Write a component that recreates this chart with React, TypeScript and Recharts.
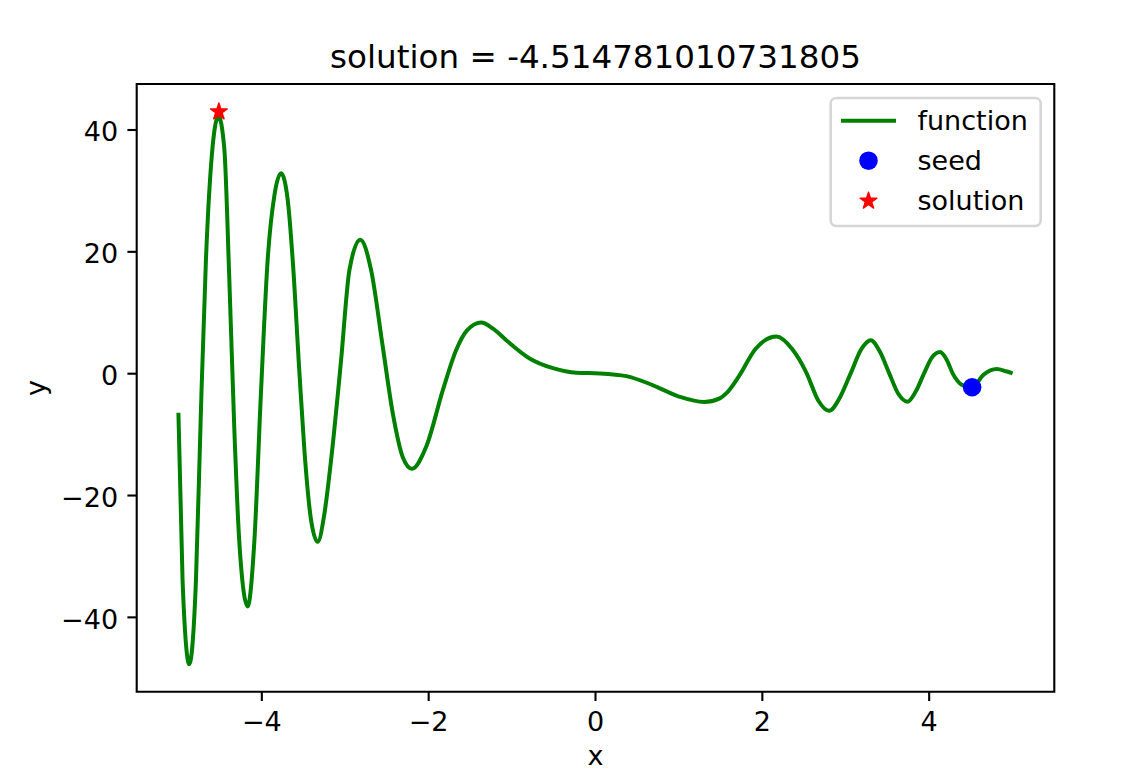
import React from 'react';
import { ComposedChart, Line, Scatter, XAxis, YAxis, ReferenceArea, Legend } from 'recharts';

// ---- data ----
const fnX = [
  -5.0, -4.95, -4.87, -4.79, -4.73, -4.67, -4.61, -4.52, -4.45, -4.39, -4.33, -4.27, -4.17,
  -4.09, -4.01, -3.93, -3.85, -3.77, -3.69, -3.63, -3.55, -3.49, -3.41, -3.33, -3.25, -3.17,
  -3.05, -2.95, -2.82, -2.69, -2.55, -2.43, -2.31, -2.2, -2.03, -1.83, -1.67, -1.54, -1.37,
  -1.22, -1.07, -0.79, -0.51, -0.23, 0.05, 0.37, 0.69, 1.01, 1.3, 1.49, 1.57, 1.72, 1.92, 2.17,
  2.36, 2.53, 2.67, 2.8, 2.93, 3.06, 3.19, 3.3, 3.41, 3.52, 3.63, 3.74, 3.84, 3.94, 4.03,
  4.13, 4.21, 4.28, 4.39, 4.515, 4.65, 4.81, 4.92, 5.0,
];
const fnY = [
  -6.4, -34, -47.7, -34, -6, 18.7, 34, 42.3, 37, 15.6, -9, -27.6, -38.2,
  -27.6, -3, 18.7, 29.2, 32.9, 28.6, 18.7, 0.3, -12.5, -24, -27.6, -23, -14.2,
  2.2, 17, 22, 17, 4.4, -6.5, -13.7, -15.6, -12, -2.7, 3.9, 7.1, 8.4,
  7.3, 5.5, 2.5, 0.9, 0.15, 0.05, -0.4, -1.9, -3.8, -4.65, -4.05, -3.2, -0.4, 4.1, 6.1,
  4.0, 0.1, -4.4, -6.1, -3.9, 0.1, 4.1, 5.5, 3.6, 0.1, -3.3, -4.6, -2.9, 0.1, 2.6,
  3.55, 2.3, 0.1, -1.8, -2.25, -0.2, 0.75, 0.4, 0.05,
];
const seedX = [4.5148];
const seedY = [-2.23];
const solutionX = [-4.514781010731805];
const solutionY = [43.0];

const xTicks = [-4, -2, 0, 2, 4];
const yTicks = [-40, -20, 0, 20, 40];
const xDomain: [number, number] = [-5.5, 5.5];
const yDomain: [number, number] = [-52.2, 47.55];

const titleText = 'solution = -4.514781010731805';
const xLabel = 'x';
const yLabel = 'y';
const legendLabels = ['function', 'seed', 'solution'];

// ---- tables built from the arrays ----
const fnData = fnX.map((x, i) => ({ x, y: fnY[i] }));
const seedData = seedX.map((x, i) => ({ x, y: seedY[i] }));
const solutionData = solutionX.map((x, i) => ({ x, y: solutionY[i] }));

const FONT = 'DejaVu Sans';
const GREEN = '#008000';
const BLUE = '#0000ff';
const RED = '#ff0000';

const fmt = (v: number) => (v < 0 ? '\u2212' + Math.abs(v) : String(v));

const starPath = (cx: number, cy: number, R: number) => {
  const r = R * 0.381966;
  const pts: string[] = [];
  for (let i = 0; i < 10; i++) {
    const ang = -Math.PI / 2 + (i * Math.PI) / 5;
    const rad = i % 2 === 0 ? R : r;
    pts.push(`${cx + rad * Math.cos(ang)},${cy + rad * Math.sin(ang)}`);
  }
  return pts.join(' ');
};

const XTick = (props: any) => {
  const { x, y, payload } = props;
  return (
    <text x={x} y={y} dy={21} textAnchor="middle" fontFamily={FONT} fontSize={27} fill="#000">
      {fmt(payload.value)}
    </text>
  );
};

const YTick = (props: any) => {
  const { x, y, payload } = props;
  return (
    <text x={x} y={y} dy={11.5} textAnchor="end" fontFamily={FONT} fontSize={27} fill="#000">
      {fmt(payload.value)}
    </text>
  );
};

const SeedShape = (props: any) => <circle cx={props.cx} cy={props.cy} r={9.3} fill={BLUE} />;
const StarShape = (props: any) => (
  <polygon points={starPath(props.cx, props.cy, 8.8)} fill={RED} stroke={RED} strokeWidth={1.4} strokeLinejoin="round" />
);

const renderLegend = () => (
  <svg width={1127} height={771} style={{ position: 'absolute', left: 0, top: 0 }}>
    <rect x={830.7} y={98} width={210} height={128} rx={5.4} ry={5.4} fill="#ffffff" fillOpacity={0.8} stroke="#d6d6d6" strokeWidth={2.6} />
    <line x1={841} y1={120.7} x2={896} y2={120.7} stroke={GREEN} strokeWidth={4} />
    <circle cx={868.5} cy={160.7} r={9.3} fill={BLUE} />
    <polygon points={starPath(868.5, 201, 8.8)} fill={RED} stroke={RED} strokeWidth={1.4} strokeLinejoin="round" />
    {legendLabels.map((t, i) => (
      <text key={t} x={917.5} y={129.8 + i * 40.3} fontFamily={FONT} fontSize={27} fill="#000">
        {t}
      </text>
    ))}
  </svg>
);

const XLabelContent = () => (
  <text x={595.5} y={764.5} textAnchor="middle" fontFamily={FONT} fontSize={27} fill="#000">
    {xLabel}
  </text>
);

const YLabelContent = () => (
  <text x={44.7} y={388} transform="rotate(-90 44.7 388)" textAnchor="middle" fontFamily={FONT} fontSize={27} fill="#000">
    {yLabel}
  </text>
);

export default function App() {
  return (
    <div style={{ position: 'relative', width: 1127, height: 771, background: '#fff' }}>
      <style>{'body{margin:0;background:#fff;}'}</style>
      <svg width={1127} height={80} style={{ position: 'absolute', left: 0, top: 0 }}>
        <text x={595.5} y={68} textAnchor="middle" fontFamily={FONT} fontSize={32.6} fill="#000">
          {titleText}
        </text>
      </svg>
      <ComposedChart width={1127} height={771} margin={{ top: 84, right: 72.7, bottom: 0, left: 36.7 }}>
        <XAxis
          type="number"
          dataKey="x"
          domain={xDomain}
          ticks={xTicks}
          interval={0}
          allowDataOverflow
          height={79.3}
          tickSize={9.3}
          tickMargin={9.3}
          axisLine={false}
          tickLine={{ stroke: '#000', strokeWidth: 2.1 }}
          tick={XTick}
          label={{ content: XLabelContent }}
        />
        <YAxis
          type="number"
          dataKey="y"
          domain={yDomain}
          ticks={yTicks}
          interval={0}
          allowDataOverflow
          width={100}
          tickSize={9.3}
          tickMargin={9.3}
          axisLine={false}
          tickLine={{ stroke: '#000', strokeWidth: 2.1 }}
          tick={YTick}
          label={{ content: YLabelContent }}
        />
        <ReferenceArea
          x1={xDomain[0]}
          x2={xDomain[1]}
          y1={yDomain[0]}
          y2={yDomain[1]}
          fill="none"
          fillOpacity={0}
          stroke="#000"
          strokeWidth={2.1}
          ifOverflow="visible"
        />
        <Line
          data={fnData}
          dataKey="y"
          type="monotone"
          stroke={GREEN}
          strokeWidth={4}
          dot={false}
          activeDot={false}
          isAnimationActive={false}
          name={legendLabels[0]}
        />
        <Scatter data={seedData} dataKey="y" fill={BLUE} shape={SeedShape} isAnimationActive={false} name={legendLabels[1]} />
        <Scatter data={solutionData} dataKey="y" fill={RED} shape={StarShape} isAnimationActive={false} name={legendLabels[2]} />
        <Legend
          layout="horizontal"
          verticalAlign="middle"
          align="center"
          content={renderLegend}
          wrapperStyle={{ left: 0, top: 0, width: 1127, height: 771, pointerEvents: 'none' }}
        />
      </ComposedChart>
    </div>
  );
}
